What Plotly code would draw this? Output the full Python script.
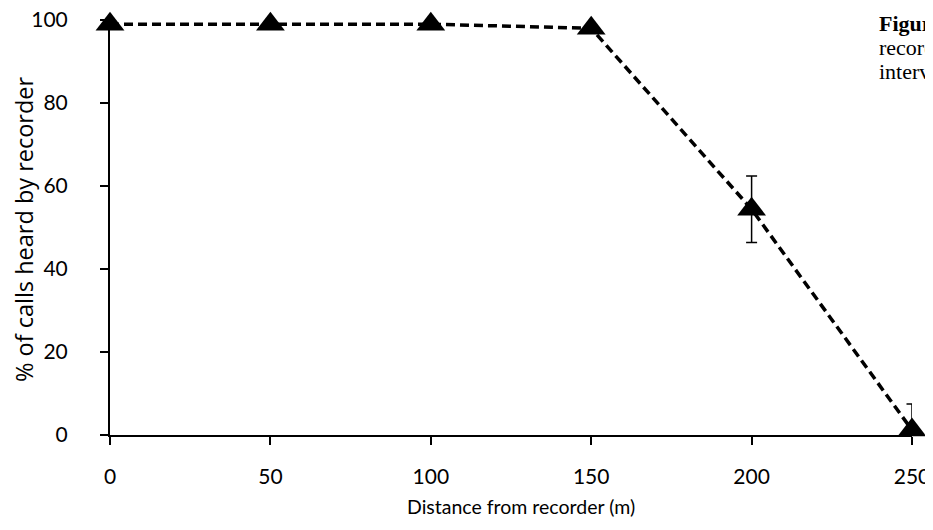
import plotly.graph_objects as go

distance = [0, 50, 100, 150, 200, 250]
pct_heard = [99, 99, 99, 98, 54.4, 1.2]
err_plus = [0, 0, 0, 0, 8.0, 6.3]
err_minus = [0, 0, 0, 0, 8.0, 1.2]
x_ticks = [0, 50, 100, 150, 200, 250]
y_ticks = [0, 20, 40, 60, 80, 100]

font_sans = "Lato, 'Open Sans', sans-serif"
font_serif = "'Liberation Serif', 'Times New Roman', serif"

# page is drawn with an 8px body margin; figure sized to fit the window
W, H = 925, 522
L, T = 102, 12
PW, PH = 802, 415
R, B = W - L - PW, H - T - PH

def px(xf):  # figure x pixel -> paper
    return (xf - L) / PW

def py(yf):  # figure y pixel -> paper
    return (T + PH - yf) / PH

fig = go.Figure()
fig.add_trace(go.Scatter(
    x=distance, y=pct_heard,
    mode="lines+markers",
    line=dict(color="black", width=3.5, dash="9px,5px"),
    marker=dict(symbol="triangle-up", size=25, color="black"),
    error_y=dict(type="data", symmetric=False, array=err_plus, arrayminus=err_minus,
                 color="black", thickness=1.5, width=5.5),
    cliponaxis=False,
    showlegend=False,
))

fig.update_layout(
    width=W, height=H,
    margin=dict(l=L, r=R, t=T, b=B),
    paper_bgcolor="white", plot_bgcolor="white",
    font=dict(family=font_sans, size=21, color="black"),
    xaxis=dict(
        range=[0, 250], tickvals=x_ticks, showgrid=False, zeroline=False,
        showline=True, linecolor="black", linewidth=2,
        ticks="outside", ticklen=8, tickwidth=2, tickcolor="black",
        ticklabelstandoff=14, automargin=False, ticklabeloverflow="allow",
    ),
    yaxis=dict(
        range=[0, 100], tickvals=y_ticks, showgrid=False, zeroline=False,
        showline=True, linecolor="black", linewidth=2,
        ticks="outside", ticklen=8, tickwidth=2, tickcolor="black",
        ticklabelstandoff=28, automargin=False, ticklabeloverflow="allow",
    ),
)

# axis titles
fig.add_annotation(
    xref="paper", yref="paper", x=px(513), y=py(498),
    xanchor="center", yanchor="middle", showarrow=False,
    text="Distance from recorder (m)", font=dict(size=19.5),
)
fig.add_annotation(
    xref="paper", yref="paper", x=px(16), y=py(221),
    xanchor="center", yanchor="middle", showarrow=False, textangle=-90,
    text="% of calls heard by recorder",
    font=dict(family="'Open Sans', Lato, sans-serif", size=23.5),
)

# caption text (cut off at the right edge, as in the original)
caption = ["<b>Figure 3.</b> Percentage of calls heard by the",
           "recorder at each distance, with 95% confidence",
           "intervals."]
for i, line in enumerate(caption):
    fig.add_annotation(
        xref="paper", yref="paper", x=px(869), y=py(16 + 24 * i),
        xanchor="left", yanchor="middle", align="left", showarrow=False,
        text=line, font=dict(family=font_serif, size=22, color="black"),
    )

fig.write_html("out.html")
